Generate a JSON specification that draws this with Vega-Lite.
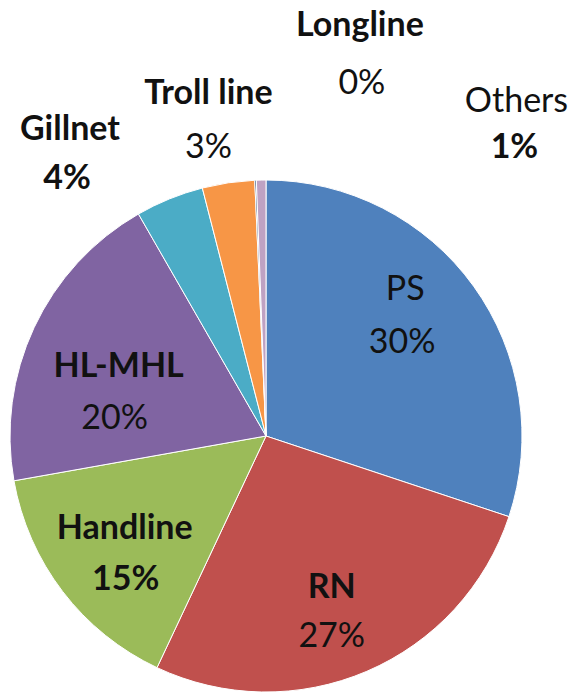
{
  "$schema": "https://vega.github.io/schema/vega-lite/v6.json",
  "autosize": {"type": "none"},
  "padding": {"left": 10, "top": 180, "right": 55, "bottom": 0},
  "width": 512,
  "height": 512,
  "background": "white",
  "config": {
    "view": {"stroke": null},
    "text": {"font": "Lato", "fontSize": 34, "color": "#111111", "baseline": "middle", "align": "center"}
  },
  "data": {
    "values": [
      {"method": "PS", "value": 30.1, "pct": "30%", "idx": 1},
      {"method": "RN", "value": 26.9, "pct": "27%", "idx": 2},
      {"method": "Handline", "value": 15.2, "pct": "15%", "idx": 3},
      {"method": "HL-MHL", "value": 19.5, "pct": "20%", "idx": 4},
      {"method": "Gillnet", "value": 4.3, "pct": "4%", "idx": 5},
      {"method": "Troll line", "value": 3.3, "pct": "3%", "idx": 6},
      {"method": "Longline", "value": 0.1, "pct": "0%", "idx": 7},
      {"method": "Others", "value": 0.6, "pct": "1%", "idx": 8}
    ]
  },
  "encoding": {
    "theta": {"field": "value", "type": "quantitative", "stack": true},
    "order": {"field": "idx", "type": "quantitative"}
  },
  "layer": [
    {
      "mark": {"type": "arc", "outerRadius": 256, "stroke": "#ffffff", "strokeWidth": 1},
      "encoding": {
        "color": {
          "field": "method", "type": "nominal", "legend": null,
          "scale": {
            "domain": ["PS", "RN", "Handline", "HL-MHL", "Gillnet", "Troll line", "Longline", "Others"],
            "range": ["#4F81BD", "#C0504D", "#9BBB59", "#8064A2", "#4BACC6", "#F79646", "#2C4D75", "#BFA2C3"]
          }
        }
      }
    },
    {"mark": {"type": "text", "radius": 184, "dx": -10, "dy": -38, "fontWeight": "normal"},
     "encoding": {"detail": {"field": "method"}, "text": {"condition": {"test": "datum.method === 'PS'", "field": "method"}, "value": ""}}},
    {"mark": {"type": "text", "radius": 184, "dx": -13, "dy": 15, "fontWeight": "normal"},
     "encoding": {"detail": {"field": "method"}, "text": {"condition": {"test": "datum.method === 'PS'", "field": "pct"}, "value": ""}}},
    {"mark": {"type": "text", "radius": 187, "dx": -8, "dy": -20, "fontWeight": "bold"},
     "encoding": {"detail": {"field": "method"}, "text": {"condition": {"test": "datum.method === 'RN'", "field": "method"}, "value": ""}}},
    {"mark": {"type": "text", "radius": 187, "dx": -8, "dy": 29, "fontWeight": "normal"},
     "encoding": {"detail": {"field": "method"}, "text": {"condition": {"test": "datum.method === 'RN'", "field": "pct"}, "value": ""}}},
    {"mark": {"type": "text", "radius": 183, "dx": 4, "dy": -18, "fontWeight": "bold"},
     "encoding": {"detail": {"field": "method"}, "text": {"condition": {"test": "datum.method === 'Handline'", "field": "method"}, "value": ""}}},
    {"mark": {"type": "text", "radius": 183, "dx": 5, "dy": 33, "fontWeight": "bold"},
     "encoding": {"detail": {"field": "method"}, "text": {"condition": {"test": "datum.method === 'Handline'", "field": "pct"}, "value": ""}}},
    {"mark": {"type": "text", "radius": 156, "dx": -6, "dy": -3, "fontWeight": "bold"},
     "encoding": {"detail": {"field": "method"}, "text": {"condition": {"test": "datum.method === 'HL-MHL'", "field": "method"}, "value": ""}}},
    {"mark": {"type": "text", "radius": 156, "dx": -10, "dy": 49, "fontWeight": "normal"},
     "encoding": {"detail": {"field": "method"}, "text": {"condition": {"test": "datum.method === 'HL-MHL'", "field": "pct"}, "value": ""}}},
    {"mark": {"type": "text", "radius": 345, "dx": -66, "dy": 14, "fontWeight": "bold"},
     "encoding": {"detail": {"field": "method"}, "text": {"condition": {"test": "datum.method === 'Gillnet'", "field": "method"}, "value": ""}}},
    {"mark": {"type": "text", "radius": 345, "dx": -69, "dy": 63, "fontWeight": "bold"},
     "encoding": {"detail": {"field": "method"}, "text": {"condition": {"test": "datum.method === 'Gillnet'", "field": "pct"}, "value": ""}}},
    {"mark": {"type": "text", "radius": 323, "dx": -10, "dy": -23, "fontWeight": "bold"},
     "encoding": {"detail": {"field": "method"}, "text": {"condition": {"test": "datum.method === 'Troll line'", "field": "method"}, "value": ""}}},
    {"mark": {"type": "text", "radius": 323, "dx": -10, "dy": 31, "fontWeight": "normal"},
     "encoding": {"detail": {"field": "method"}, "text": {"condition": {"test": "datum.method === 'Troll line'", "field": "pct"}, "value": ""}}},
    {"mark": {"type": "text", "radius": 395, "dx": 110, "dy": -15, "fontWeight": "bold"},
     "encoding": {"detail": {"field": "method"}, "text": {"condition": {"test": "datum.method === 'Longline'", "field": "method"}, "value": ""}}},
    {"mark": {"type": "text", "radius": 395, "dx": 112, "dy": 43, "fontWeight": "normal"},
     "encoding": {"detail": {"field": "method"}, "text": {"condition": {"test": "datum.method === 'Longline'", "field": "pct"}, "value": ""}}},
    {"mark": {"type": "text", "radius": 401, "dx": 258, "dy": 67, "fontWeight": "normal"},
     "encoding": {"detail": {"field": "method"}, "text": {"condition": {"test": "datum.method === 'Others'", "field": "method"}, "value": ""}}},
    {"mark": {"type": "text", "radius": 401, "dx": 256, "dy": 113, "fontWeight": "bold"},
     "encoding": {"detail": {"field": "method"}, "text": {"condition": {"test": "datum.method === 'Others'", "field": "pct"}, "value": ""}}}
  ]
}
